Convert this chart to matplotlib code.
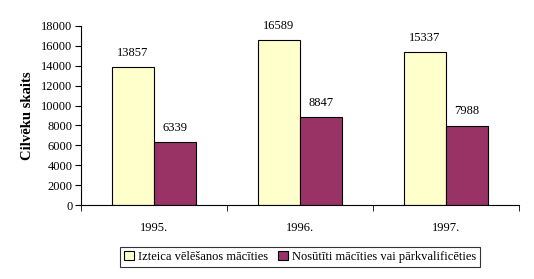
import matplotlib.pyplot as plt
import numpy as np

years = ['1995.', '1996.', '1997.']
wanted = [13857, 16589, 15337]
sent = [6339, 8847, 7988]
labels = ['Izteica vēlēšanos mācīties', 'Nosūtīti mācīties vai pārkvalificēties']

plt.rcParams['font.family'] = ['Liberation Serif', 'DejaVu Serif']
plt.rcParams['font.size'] = 9

fig = plt.figure(figsize=(5.34, 2.79), dpi=100)
ax = fig.add_axes([81 / 534, 1 - 205 / 279, 438 / 534, 179 / 279])

x = np.arange(len(years))
w = 0.29
b1 = ax.bar(x - w / 2, wanted, w, color='#FFFFCC', edgecolor='black', linewidth=0.8, label=labels[0])
b2 = ax.bar(x + w / 2, sent, w, color='#993366', edgecolor='black', linewidth=0.8, label=labels[1])

for bars in (b1, b2):
    for r in bars:
        ax.annotate(str(int(r.get_height())), (r.get_x() + r.get_width() / 2, r.get_height()),
                    xytext=(0, 6), textcoords='offset points', ha='center', va='bottom')

ax.set_xlim(-0.5, 2.5)
ax.set_ylim(0, 18000)
ax.set_yticks(range(0, 18001, 2000))
ax.set_xticks(x)
ax.set_xticklabels(years)
ax.set_xticks([-0.5, 0.5, 1.5, 2.5], minor=True)
ax.tick_params(axis='x', which='major', length=0, pad=12)
ax.tick_params(axis='x', which='minor', length=4, direction='out')
ax.tick_params(axis='y', length=4, direction='out', pad=2)
for s in ('top', 'right'):
    ax.spines[s].set_visible(False)
ax.set_ylabel('Cilvēku skaits', fontweight='bold', fontsize=10.5, labelpad=5)

leg = ax.legend(loc='upper center', bbox_to_anchor=(0.5, -0.2), ncol=2, frameon=True,
                fancybox=False, edgecolor='black', handlelength=0.8, handleheight=0.8,
                handletextpad=0.3, columnspacing=0.8, borderpad=0.3)
leg.get_frame().set_linewidth(0.8)

fig.savefig('out.png', dpi=100)
